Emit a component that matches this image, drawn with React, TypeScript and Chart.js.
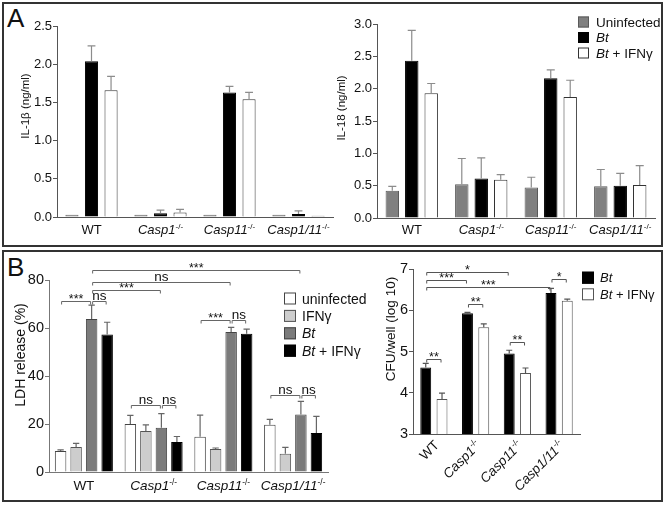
import React, { useEffect, useRef } from 'react';
import { Chart, registerables } from 'chart.js';
Chart.register(...registerables);

const FONT = '"Liberation Sans", Arial, Helvetica, sans-serif';

// ---------- data ----------
const groups = ['WT', 'Casp1-/-', 'Casp11-/-', 'Casp1/11-/-'];

// Panel A – IL-1β (ng/ml)
const seriesA = ['Uninfected', 'Bt', 'Bt + IFNγ'];
const il1bUninfected = [0.03, 0.03, 0.03, 0.03];
const il1bBt = [2.04, 0.05, 1.63, 0.04];
const il1bBtIfn = [1.66, 0.06, 1.54, 0.015];
const il1bUninfectedSd = [0, 0, 0, 0];
const il1bBtSd = [0.2, 0.04, 0.08, 0.04];
const il1bBtIfnSd = [0.18, 0.04, 0.09, 0];

// Panel A – IL-18 (ng/ml)
const il18Uninfected = [0.42, 0.52, 0.47, 0.49];
const il18Bt = [2.43, 0.61, 2.16, 0.5];
const il18BtIfn = [1.93, 0.59, 1.87, 0.51];
const il18UninfectedSd = [0.07, 0.4, 0.16, 0.26];
const il18BtSd = [0.47, 0.32, 0.13, 0.19];
const il18BtIfnSd = [0.15, 0.08, 0.26, 0.3];

// Panel B – LDH release (%)
const seriesLdh = ['uninfected', 'IFNγ', 'Bt', 'Bt + IFNγ'];
const ldhUninfected = [8.7, 20.0, 14.7, 19.7];
const ldhIfn = [10.4, 17.1, 9.6, 7.6];
const ldhBt = [63.8, 18.4, 58.3, 24.0];
const ldhBtIfn = [57.3, 12.5, 57.6, 16.2];
const ldhUninfectedSd = [0.5, 3.6, 9.0, 2.2];
const ldhIfnSd = [1.5, 2.5, 0.4, 2.7];
const ldhBtSd = [5.7, 5.9, 2.0, 5.4];
const ldhBtIfnSd = [5.1, 2.3, 1.9, 7.0];

// Panel B – CFU/well (log 10)
const seriesCfu = ['Bt', 'Bt + IFNγ'];
const cfuBt = [4.61, 5.93, 4.95, 6.42];
const cfuBtIfn = [3.85, 5.59, 4.48, 6.23];
const cfuBtSd = [0.1, 0.02, 0.08, 0.11];
const cfuBtIfnSd = [0.14, 0.08, 0.12, 0.04];

// significance brackets: [fromGroup, fromSeries, toGroup, toSeries, level, label]
const ldhBrackets: [number, number, number, number, number, string][] = [
  [0, 0, 0, 2, 71.3, '***'],
  [0, 2, 0, 3, 71.3, 'ns'],
  [0, 2, 1, 2, 75.8, '***'],
  [0, 2, 2, 2, 79.3, 'ns'],
  [0, 2, 3, 2, 84.2, '***'],
  [1, 0, 1, 2, 28, 'ns'],
  [1, 2, 1, 3, 28, 'ns'],
  [2, 0, 2, 2, 63.4, '***'],
  [2, 2, 2, 3, 63.4, 'ns'],
  [3, 0, 3, 2, 32, 'ns'],
  [3, 2, 3, 3, 32, 'ns'],
];
const cfuBrackets: [number, number, number, number, number, string][] = [
  [0, 0, 2, 0, 6.93, '*'],
  [0, 0, 1, 0, 6.73, '***'],
  [0, 0, 3, 0, 6.56, '***'],
  [0, 0, 0, 1, 4.82, '**'],
  [1, 0, 1, 1, 6.15, '**'],
  [2, 0, 2, 1, 5.23, '**'],
  [3, 0, 3, 1, 6.76, '*'],
];

// ---------- rich text helpers ----------
type Seg = { t: string; it: boolean; sup: boolean };
function segs(label: string): Seg[] {
  const out: Seg[] = [];
  let base = label;
  let sup = '';
  if (label.endsWith('-/-')) {
    base = label.slice(0, -3);
    sup = '-/-';
  }
  base.split(/(\s+)/).forEach((w) => {
    if (!w) return;
    out.push({ t: w, it: /^(Bt|Casp)/.test(w), sup: false });
  });
  if (sup) out.push({ t: sup, it: false, sup: true });
  return out;
}
function drawRich(ctx: CanvasRenderingContext2D, label: string, x: number, y: number, size: number, align: string, color = '#111') {
  const ss = segs(label);
  const fontFor = (s: Seg) => `${s.it ? 'italic ' : ''}${s.sup ? size * 0.62 : size}px ${FONT}`;
  const widths = ss.map((s) => {
    ctx.font = fontFor(s);
    return ctx.measureText(s.t).width;
  });
  const total = widths.reduce((a, b) => a + b, 0);
  let cx = align === 'left' ? x : align === 'center' ? x - total / 2 : x - total;
  ctx.save();
  ctx.fillStyle = color;
  ctx.textAlign = 'left';
  ctx.textBaseline = 'alphabetic';
  ss.forEach((s, i) => {
    ctx.font = fontFor(s);
    ctx.fillText(s.t, cx, s.sup ? y - size * 0.4 : y);
    cx += widths[i];
  });
  ctx.restore();
}

// ---------- panel config ----------
type DS = { label: string; data: number[]; sd: number[]; fill: string; border: string };
type PanelCfg = {
  x: number; y: number; w: number; h: number;
  padTop: number; padRight: number; yWidth: number; xHeight: number;
  min: number; max: number; step: number; decimals: number;
  datasets: DS[];
  catPct: number; barPct: number;
  tickSize: number; catSize: number; catDy: number; rotate?: boolean;
  axisColor: string; errColor: string; capFrac: number;
  yTitle: { text: string; x: number; y: number; size: number };
  legend?: { x: number; y: number; row: number; box: number; size: number; textX: number };
  brackets?: [number, number, number, number, number, string][];
  bracketColor?: string;
};

function makeDecor(cfg: PanelCfg) {
  return {
    id: 'decor',
    afterDraw(chart: any) {
      const ctx: CanvasRenderingContext2D = chart.ctx;
      const area = chart.chartArea;
      const yScale = chart.scales.y;
      // error bars
      cfg.datasets.forEach((ds, di) => {
        const meta = chart.getDatasetMeta(di);
        meta.data.forEach((el: any, j: number) => {
          const sd = ds.sd[j];
          if (!sd) return;
          const yTop = yScale.getPixelForValue(ds.data[j] + sd);
          const half = (el.width * cfg.capFrac) / 2;
          ctx.save();
          ctx.strokeStyle = cfg.errColor;
          ctx.lineWidth = 1.2;
          ctx.beginPath();
          ctx.moveTo(el.x, el.y);
          ctx.lineTo(el.x, yTop);
          ctx.moveTo(el.x - half, yTop);
          ctx.lineTo(el.x + half, yTop);
          ctx.stroke();
          ctx.restore();
        });
      });
      // brackets
      (cfg.brackets || []).forEach(([g1, s1, g2, s2, level, text]) => {
        const x1 = chart.getDatasetMeta(s1).data[g1].x + 1;
        const x2 = chart.getDatasetMeta(s2).data[g2].x - 1;
        const y = Math.round(yScale.getPixelForValue(level)) + 0.5;
        ctx.save();
        ctx.strokeStyle = cfg.bracketColor || '#555';
        ctx.lineWidth = 1;
        ctx.beginPath();
        ctx.moveTo(x1, y + 3);
        ctx.lineTo(x1, y);
        ctx.lineTo(x2, y);
        ctx.lineTo(x2, y + 3);
        ctx.stroke();
        ctx.fillStyle = '#111';
        ctx.textAlign = 'center';
        ctx.textBaseline = 'alphabetic';
        const star = text.includes('*');
        ctx.font = `${star ? 12.5 : 13.5}px ${FONT}`;
        ctx.fillText(text, (x1 + x2) / 2, star ? y + 1.5 : y - 1.5);
        ctx.restore();
      });
      // category labels
      const xScale = chart.scales.x;
      groups.forEach((g, i) => {
        const cx = xScale.getPixelForValue(i);
        if (cfg.rotate) {
          ctx.save();
          ctx.translate(cx + 6, area.bottom + cfg.catDy);
          ctx.rotate(-Math.PI / 4);
          drawRich(ctx, g, 0, 0, cfg.catSize, 'right');
          ctx.restore();
        } else {
          drawRich(ctx, g, cx, area.bottom + cfg.catDy, cfg.catSize, 'center');
        }
      });
      // y title
      ctx.save();
      ctx.translate(cfg.yTitle.x, cfg.yTitle.y);
      ctx.rotate(-Math.PI / 2);
      ctx.fillStyle = '#111';
      ctx.font = `${cfg.yTitle.size}px ${FONT}`;
      ctx.textAlign = 'center';
      ctx.textBaseline = 'middle';
      ctx.fillText(cfg.yTitle.text, 0, 0);
      ctx.restore();
      // legend
      if (cfg.legend) {
        const L = cfg.legend;
        cfg.datasets.forEach((ds, i) => {
          const cy = L.y + i * L.row;
          ctx.save();
          ctx.fillStyle = ds.fill;
          ctx.strokeStyle = ds.border;
          ctx.lineWidth = 1;
          ctx.fillRect(L.x, cy - L.box / 2, L.box, L.box);
          ctx.strokeRect(L.x + 0.5, cy - L.box / 2 + 0.5, L.box - 1, L.box - 1);
          ctx.restore();
          drawRich(ctx, ds.label, L.textX, cy + L.size * 0.36, L.size, 'left');
        });
      }
    },
  };
}

function buildConfig(cfg: PanelCfg): any {
  return {
    type: 'bar',
    data: {
      labels: groups,
      datasets: cfg.datasets.map((d) => ({
        label: d.label,
        data: d.data,
        backgroundColor: d.fill,
        borderColor: d.border,
        borderWidth: 1,
        categoryPercentage: cfg.catPct,
        barPercentage: cfg.barPct,
      })),
    },
    options: {
      animation: false,
      responsive: false,
      events: [],
      layout: { padding: { top: cfg.padTop, right: cfg.padRight, left: 0, bottom: 0 } },
      plugins: { legend: { display: false }, tooltip: { enabled: false } },
      scales: {
        x: {
          grid: { display: true, drawOnChartArea: false, drawTicks: false },
          border: { display: true, color: cfg.axisColor, width: 1 },
          ticks: { display: false },
          afterFit: (s: any) => {
            s.height = cfg.xHeight;
          },
        },
        y: {
          min: cfg.min,
          max: cfg.max,
          ticks: {
            stepSize: cfg.step,
            callback: (v: any) => Number(v).toFixed(cfg.decimals),
            font: { family: FONT, size: cfg.tickSize },
            color: '#111',
            padding: 1,
          },
          grid: { display: true, drawOnChartArea: false, drawTicks: true, tickLength: 4, color: cfg.axisColor },
          border: { display: true, color: cfg.axisColor, width: 1 },
          afterFit: (s: any) => {
            s.width = cfg.yWidth;
          },
        },
      },
    },
    plugins: [makeDecor(cfg)],
  };
}

function Panel({ cfg }: { cfg: PanelCfg }) {
  const ref = useRef<HTMLCanvasElement>(null);
  useEffect(() => {
    const chart = new Chart(ref.current as HTMLCanvasElement, buildConfig(cfg));
    return () => chart.destroy();
  }, []);
  return (
    <canvas
      ref={ref}
      width={cfg.w}
      height={cfg.h}
      style={{ position: 'absolute', left: cfg.x, top: cfg.y, width: cfg.w, height: cfg.h }}
    />
  );
}

const GRAY_A = '#808080';

const il1bCfg: PanelCfg = {
  x: 4, y: 4, w: 330, h: 240,
  padTop: 22, padRight: 1, yWidth: 53, xHeight: 27,
  min: 0, max: 2.5, step: 0.5, decimals: 1,
  datasets: [
    { label: seriesA[0], data: il1bUninfected, sd: il1bUninfectedSd, fill: GRAY_A, border: '#5a5a5a' },
    { label: seriesA[1], data: il1bBt, sd: il1bBtSd, fill: '#000', border: '#000' },
    { label: seriesA[2], data: il1bBtIfn, sd: il1bBtIfnSd, fill: '#fff', border: '#333' },
  ],
  catPct: 0.85, barPct: 0.67,
  tickSize: 13, catSize: 13, catDy: 17,
  axisColor: '#555', errColor: '#8c8c8c', capFrac: 0.6,
  yTitle: { text: 'IL-1β (ng/ml)', x: 22, y: 102, size: 11.5 },
};

const il18Cfg: PanelCfg = {
  x: 333, y: 4, w: 328, h: 240,
  padTop: 20, padRight: 6, yWidth: 44, xHeight: 26,
  min: 0, max: 3, step: 0.5, decimals: 1,
  datasets: [
    { label: seriesA[0], data: il18Uninfected, sd: il18UninfectedSd, fill: GRAY_A, border: '#5a5a5a' },
    { label: seriesA[1], data: il18Bt, sd: il18BtSd, fill: '#000', border: '#000' },
    { label: seriesA[2], data: il18BtIfn, sd: il18BtIfnSd, fill: '#fff', border: '#333' },
  ],
  catPct: 0.84, barPct: 0.69,
  tickSize: 13, catSize: 13, catDy: 16,
  axisColor: '#555', errColor: '#8c8c8c', capFrac: 0.6,
  yTitle: { text: 'IL-18 (ng/ml)', x: 8.5, y: 104, size: 11.5 },
  legend: { x: 245, y: 18, row: 15.5, box: 11, size: 13.5, textX: 263 },
};

const ldhCfg: PanelCfg = {
  x: 4, y: 252, w: 370, h: 246,
  padTop: 28, padRight: 46, yWidth: 45, xHeight: 26,
  min: 0, max: 80, step: 20, decimals: 0,
  datasets: [
    { label: seriesLdh[0], data: ldhUninfected, sd: ldhUninfectedSd, fill: '#fff', border: '#444' },
    { label: seriesLdh[1], data: ldhIfn, sd: ldhIfnSd, fill: '#cdcdcd', border: '#555' },
    { label: seriesLdh[2], data: ldhBt, sd: ldhBtSd, fill: '#7b7b7b', border: '#444' },
    { label: seriesLdh[3], data: ldhBtIfn, sd: ldhBtIfnSd, fill: '#000', border: '#000' },
  ],
  catPct: 0.89, barPct: 0.74,
  tickSize: 14.5, catSize: 13.5, catDy: 18,
  axisColor: '#777', errColor: '#666', capFrac: 0.55,
  yTitle: { text: 'LDH release (%)', x: 17, y: 103, size: 14 },
  legend: { x: 280, y: 46.5, row: 17.4, box: 12, size: 14, textX: 298 },
  brackets: ldhBrackets,
  bracketColor: '#666',
};

const cfuCfg: PanelCfg = {
  x: 376, y: 252, w: 285, h: 246,
  padTop: 17, padRight: 81, yWidth: 37, xHeight: 64,
  min: 3, max: 7, step: 1, decimals: 0,
  datasets: [
    { label: seriesCfu[0], data: cfuBt, sd: cfuBtSd, fill: '#000', border: '#000' },
    { label: seriesCfu[1], data: cfuBtIfn, sd: cfuBtIfnSd, fill: '#fff', border: '#555' },
  ],
  catPct: 0.78, barPct: 0.67,
  tickSize: 14.5, catSize: 13.5, catDy: 12, rotate: true,
  axisColor: '#555', errColor: '#555', capFrac: 0.55,
  yTitle: { text: 'CFU/well (log 10)', x: 15.7, y: 77, size: 13.5 },
  legend: { x: 206, y: 25.7, row: 16.6, box: 12, size: 13, textX: 224 },
  brackets: cfuBrackets,
  bracketColor: '#555',
};

export default function App() {
  const frame = (top: number, height: number): React.CSSProperties => ({
    position: 'absolute',
    left: 2,
    top,
    width: 661,
    height,
    border: '2px solid #333',
    boxSizing: 'border-box',
  });
  const letter = (top: number): React.CSSProperties => ({
    position: 'absolute',
    left: 7,
    top,
    fontFamily: FONT,
    fontSize: 26,
    lineHeight: '26px',
    color: '#111',
  });
  return (
    <div style={{ position: 'fixed', left: 0, top: 0, width: 667, height: 505, background: '#fff', overflow: 'hidden' }}>
      <div style={frame(2, 245)} />
      <div style={frame(250, 252)} />
      <div style={letter(5)}>A</div>
      <div style={letter(254)}>B</div>
      <Panel cfg={il1bCfg} />
      <Panel cfg={il18Cfg} />
      <Panel cfg={ldhCfg} />
      <Panel cfg={cfuCfg} />
    </div>
  );
}
